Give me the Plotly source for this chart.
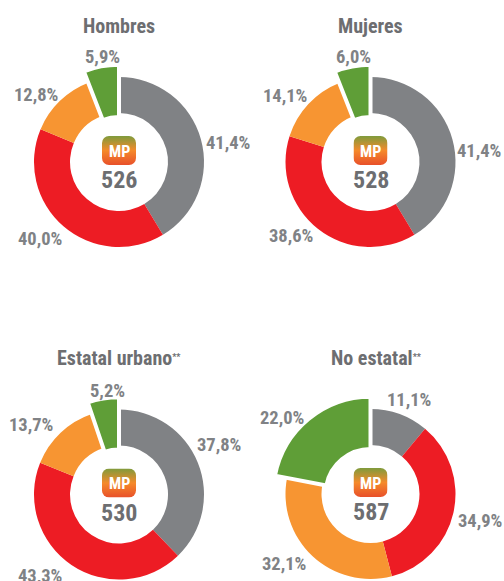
import base64
import plotly.graph_objects as go

W, H = 504, 600  # page clips at 581, as the reference does
FONT = "Roboto Condensed, Liberation Sans, sans-serif"

categories = ["Gris", "Rojo", "Naranja", "Verde"]
colors = ["#808285", "#ED1C24", "#F79532", "#5F9E37"]
clear = "rgba(0,0,0,0)"

STARS = '<span style="font-size:13px"><sup>**</sup></span>'
titles = ["Hombres", "Mujeres", "Estatal urbano" + STARS, "No estatal" + STARS]
totals = ["526", "528", "530", "587"]
hombres = [41.4, 40.0, 12.8, 5.9]
mujeres = [41.4, 38.6, 14.1, 6.0]
estatal = [37.8, 43.3, 13.7, 5.2]
no_estatal = [11.1, 34.9, 32.1, 22.0]
series = [hombres, mujeres, estatal, no_estatal]

centers = [(119, 162), (370.5, 162), (119, 494.5), (370.5, 494)]
RADIUS = 85
HOLE_R = 49
BIG_RADIUS = 97.3
BIG_HOLE_R = 45
title_pos = [(119, 26), (370, 26), (119, 358), (376, 358)]
label_pos = [
    [(228, 143), (40, 239), (36, 95), (102, 57)],
    [(479, 151), (291, 236), (285, 96), (353, 57)],
    [(219, 445), (40, 576), (31, 425), (107, 391)],
    [(409, 400), (480, 521), (284, 564), (282, 418)],
]

svg = (
    '<svg xmlns="http://www.w3.org/2000/svg" width="34" height="29">'
    '<defs><linearGradient id="g" x1="0" y1="0" x2="0" y2="1">'
    '<stop offset="0" stop-color="#7F9B3C"/><stop offset="0.5" stop-color="#F58A2B"/>'
    '<stop offset="1" stop-color="#E8502A"/></linearGradient></defs>'
    '<rect width="34" height="29" rx="7" ry="7" fill="url(#g)"/></svg>'
)
badge = "data:image/svg+xml;base64," + base64.b64encode(svg.encode()).decode()

fig = go.Figure()
annotations, images = [], []


def note(x, y, text, size, color):
    annotations.append(dict(
        x=x / W, y=1 - y / H, xref="paper", yref="paper", text=f"<b>{text}</b>",
        showarrow=False, xanchor="center", yanchor="middle",
        font=dict(family=FONT, size=size, color=color),
    ))


def domain(cx, cy, r):
    return dict(x=[(cx - r) / W, (cx + r) / W], y=[1 - (cy + r) / H, 1 - (cy - r) / H])


for i, vals in enumerate(series):
    cx, cy = centers[i]
    # ring of all slices, the last one left clear
    fig.add_trace(go.Pie(
        labels=categories, values=vals, sort=False, direction="clockwise", rotation=0,
        hole=HOLE_R / RADIUS, textinfo="none", hoverinfo="label+percent", showlegend=False,
        marker=dict(colors=colors[:3] + [clear], line=dict(width=0)),
        domain=domain(cx, cy, RADIUS),
    ))
    # the last slice, drawn larger with a white outline that cuts the neighbours
    fig.add_trace(go.Pie(
        labels=categories, values=vals, sort=False, direction="clockwise", rotation=0,
        hole=BIG_HOLE_R / BIG_RADIUS, textinfo="none", hoverinfo="label+percent", showlegend=False,
        marker=dict(colors=[clear, clear, clear, colors[3]],
                    line=dict(color="white", width=[0, 0, 0, 4])),
        domain=domain(cx, cy, BIG_RADIUS),
    ))
    images.append(dict(
        source=badge, xref="paper", yref="paper", x=(cx - 17) / W, y=1 - (cy - 26) / H,
        sizex=34 / W, sizey=29 / H, xanchor="left", yanchor="top", sizing="stretch", layer="above",
    ))
    note(cx, cy - 11, "MP", 16, "white")
    note(cx, cy + 18, totals[i], 24, "#6D6E71")
    note(*title_pos[i], titles[i], 20, "#6D6E71")
    for (lx, ly), v in zip(label_pos[i], vals):
        note(lx, ly, f"{v:.1f}%".replace(".", ","), 18.5, "#808285")

fig.update_layout(
    width=W, height=H, margin=dict(l=0, r=0, t=0, b=0),
    paper_bgcolor="white", annotations=annotations, images=images,
)
fig.write_html(
    "out.html",
    config={"displayModeBar": False},
    post_script="document.documentElement.style.overflow='hidden';"
                "document.body.style.margin='0';document.body.style.overflow='hidden';",
)
